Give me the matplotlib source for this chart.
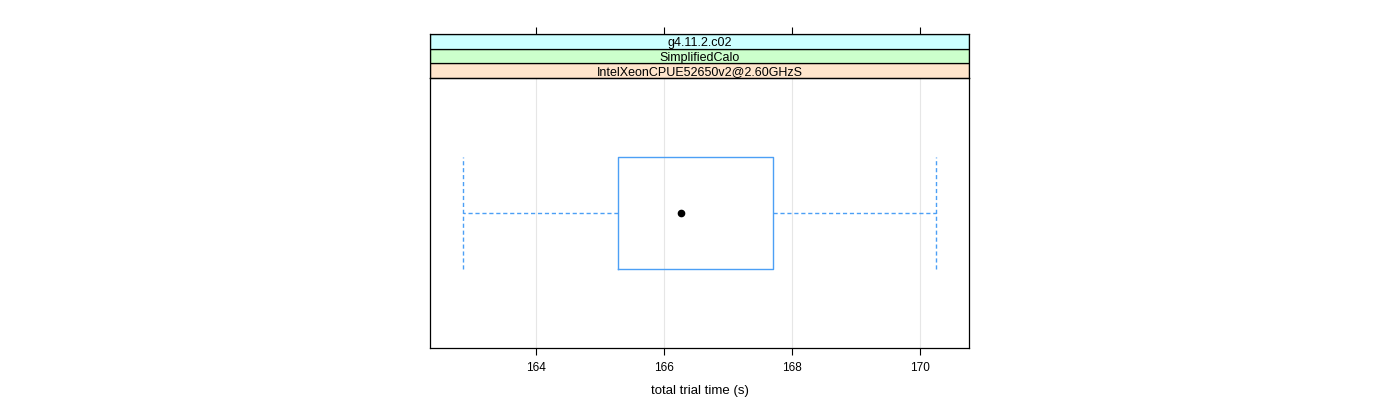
import matplotlib
matplotlib.use("Agg")
import matplotlib.pyplot as plt
from matplotlib.patches import Rectangle

plt.rcParams['font.family'] = ['Liberation Sans', 'DejaVu Sans']

# data
strips = ["IntelXeonCPUE52650v2@2.60GHzS", "SimplifiedCalo", "g4.11.2.c02"]
strip_cols = ["#ffe5cc", "#ccffcc", "#ccffff"]
whislo, q1, med, q3, whishi = 162.86, 165.28, 166.27, 167.70, 170.25
xticks = [164, 166, 168, 170]
xlim = (162.34, 170.77)
box_col = "#4c9ff5"

fig = plt.figure(figsize=(14, 4), dpi=100)

# main panel
ax = fig.add_axes([430/1400, 1-348/400, 539/1400, 270/400])
ax.set_xlim(*xlim)
ax.set_ylim(0.4, 1.6)
for t in xticks:
    ax.axvline(t, color="#e6e6e6", lw=0.8, zorder=0)

stats = [dict(whislo=whislo, q1=q1, med=med, q3=q3, whishi=whishi, fliers=[])]
ax.bxp(stats, positions=[1], widths=0.5, orientation='horizontal',
       showfliers=False, capwidths=0.5,
       boxprops=dict(color=box_col, lw=1),
       whiskerprops=dict(color=box_col, lw=1, linestyle=(0, (3, 2))),
       capprops=dict(color=box_col, lw=1, linestyle=(0, (3, 2))),
       medianprops=dict(lw=0))
ax.plot([med], [1], 'o', color='black', ms=4.5)

ax.set_xticks(xticks)
ax.set_xticklabels([str(t) for t in xticks], fontsize=8.5)
ax.set_yticks([])
ax.tick_params(axis='x', direction='out', length=5, width=0.8, pad=5)
ax.set_xlabel("total trial time (s)", fontsize=9.5, labelpad=8)
for s in ax.spines.values():
    s.set_linewidth(0.9)

# strips
sax = fig.add_axes([430/1400, 1-78/400, 539/1400, 44/400])
sax.set_xlim(*xlim)
sax.set_ylim(0, len(strips))
for i, (lab, col) in enumerate(zip(strips, strip_cols)):
    sax.add_patch(Rectangle((xlim[0], i), xlim[1]-xlim[0], 1, facecolor=col,
                            edgecolor='black', lw=0.9))
    sax.text(sum(xlim)/2, i+0.5, lab, ha='center', va='center_baseline', fontsize=9)
sax.set_yticks([])
sax.set_xticks(xticks)
sax.tick_params(axis='x', bottom=False, labelbottom=False, top=True,
                labeltop=False, direction='out', length=5, width=0.8)
for s in sax.spines.values():
    s.set_linewidth(0.9)

fig.savefig("out.png", dpi=100)
